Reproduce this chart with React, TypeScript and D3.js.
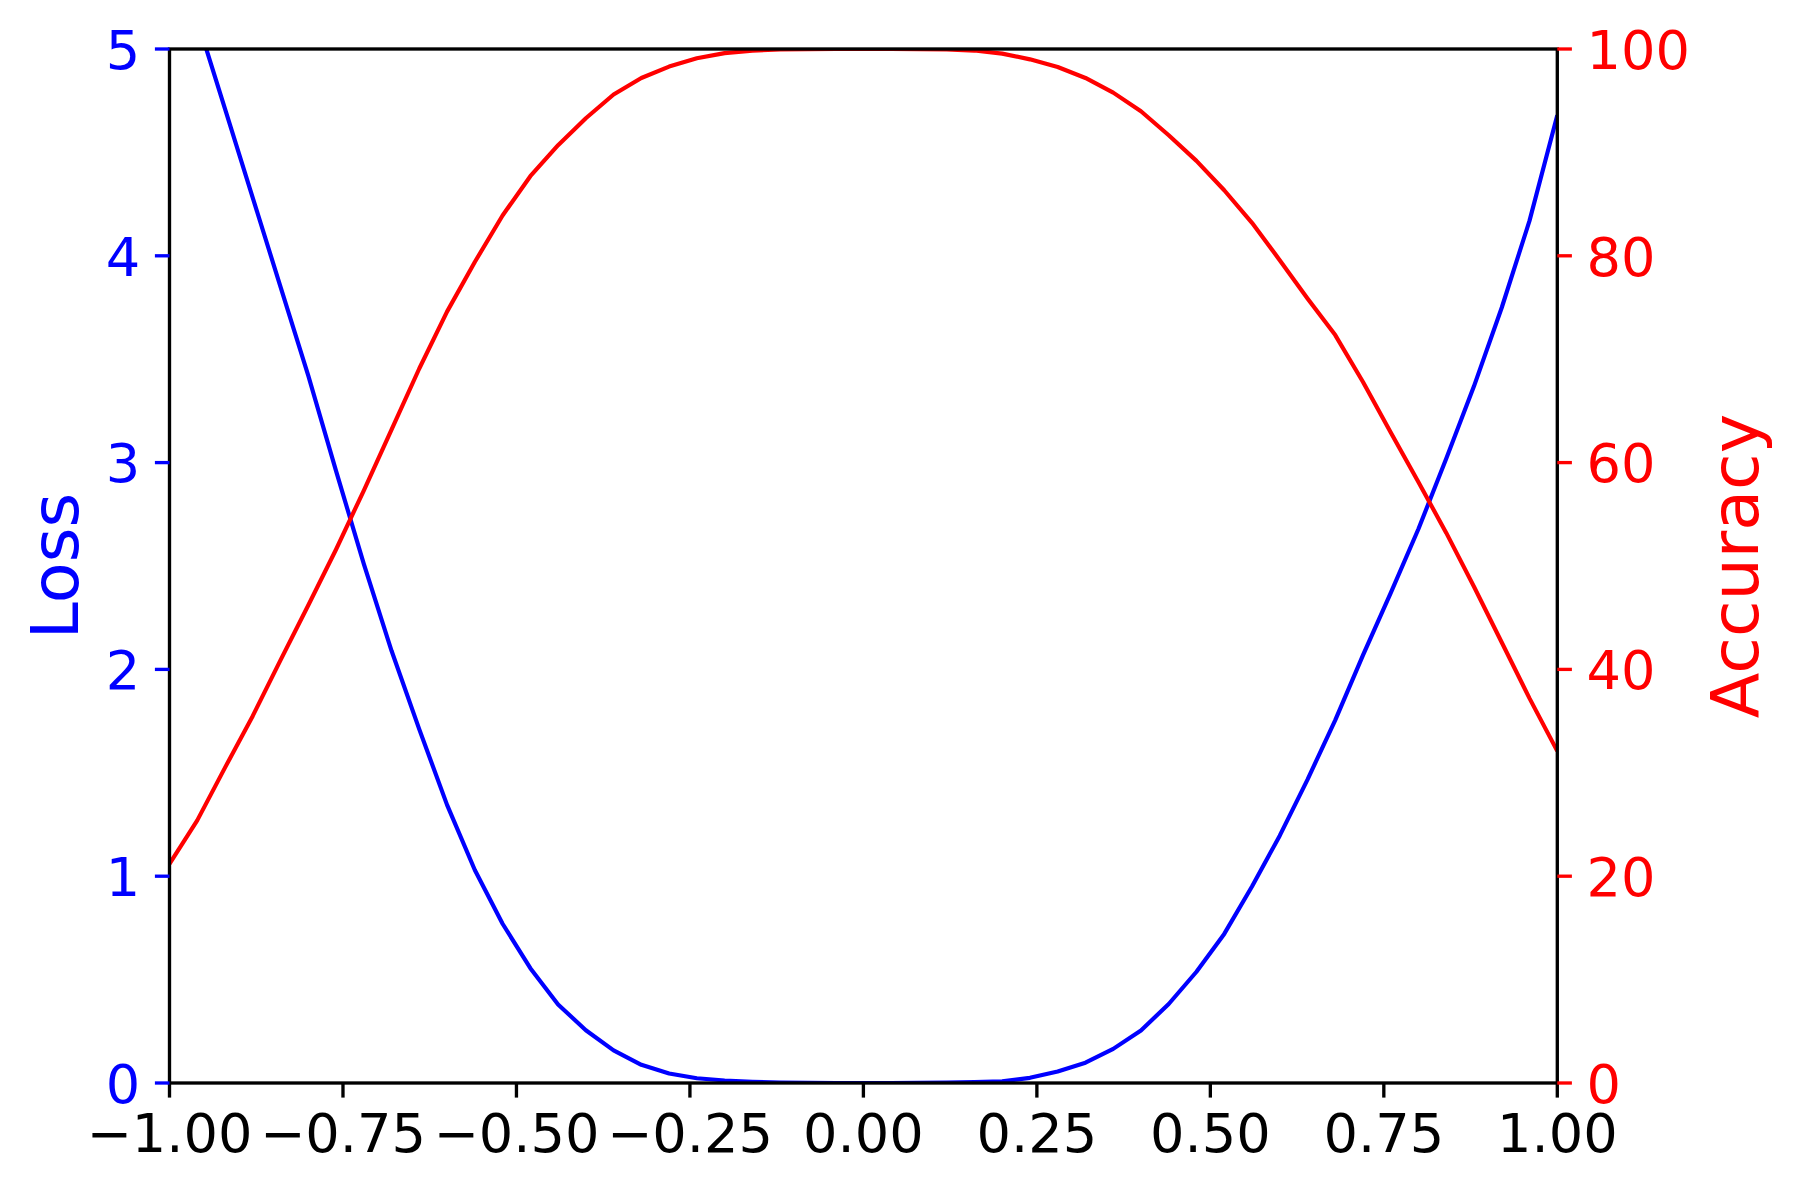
import React from "react";
import * as d3 from "d3";

const X = [
  -1.0, -0.96, -0.92, -0.88, -0.84, -0.8, -0.76, -0.72, -0.68, -0.64, -0.6, -0.56, -0.52, -0.48, -0.44, -0.4, -0.36,
  -0.32, -0.28, -0.24, -0.2, -0.16, -0.12, -0.08, -0.04, 0.0, 0.04, 0.08, 0.12, 0.16, 0.2, 0.24, 0.28, 0.32, 0.36,
  0.4, 0.44, 0.48, 0.52, 0.56, 0.6, 0.64, 0.68, 0.72, 0.76, 0.8, 0.84, 0.88, 0.92, 0.96, 1.0,
];
const LOSS = [
  5.57, 5.14, 4.71, 4.28, 3.85, 3.42, 2.96, 2.51, 2.09, 1.71, 1.345, 1.03, 0.77, 0.555, 0.38, 0.255, 0.158, 0.088, 0.046,
  0.023, 0.012, 0.006, 0.002, 0.0005, 0.0, 0.0, 0.0, 0.0005, 0.002, 0.004, 0.008, 0.025, 0.056, 0.098, 0.165, 0.254,
  0.382, 0.538, 0.721, 0.95, 1.196, 1.467, 1.755, 2.069, 2.37, 2.68, 3.02, 3.37, 3.75, 4.17, 4.68,
];
const ACC = [
  21.2, 25.4, 30.5, 35.5, 40.9, 46.2, 51.6, 57.3, 63.2, 69.1, 74.6, 79.4, 83.9, 87.7, 90.7, 93.3, 95.6, 97.2, 98.3,
  99.1, 99.6, 99.85, 99.95, 99.99, 100, 100, 100, 99.99, 99.95, 99.85, 99.55, 99.0, 98.26, 97.2, 95.78, 93.98, 91.66,
  89.18, 86.34, 83.19, 79.58, 75.88, 72.33, 67.8, 62.9, 58.1, 53.2, 48.0, 42.6, 37.2, 32.1,
];
const X_TICKS = [-1.0, -0.75, -0.5, -0.25, 0.0, 0.25, 0.5, 0.75, 1.0];
const LOSS_TICKS = [0, 1, 2, 3, 4, 5];
const ACC_TICKS = [0, 20, 40, 60, 80, 100];

const W = 1799;
const H = 1191;
const L = 169.5;
const R = 1557.3;
const T = 49;
const B = 1083;
const TICK = 14.6;
const PAD = 14.6;
const TICK_FS = 54.2;
const LABEL_FS = 66.7;
const CAP = 0.729;
const FONT = "DejaVu Sans";

export default function App() {
  const x = d3.scaleLinear().domain([-1, 1]).range([L, R]);
  const yL = d3.scaleLinear().domain([0, 5]).range([B, T]);
  const yA = d3.scaleLinear().domain([0, 100]).range([B, T]);

  const lossLine = d3
    .line<number>()
    .x((_, i) => x(X[i]))
    .y((d) => yL(d))(LOSS) as string;
  const accLine = d3
    .line<number>()
    .x((_, i) => x(X[i]))
    .y((d) => yA(d))(ACC) as string;

  const fmtX = (v: number) => d3.format(".2f")(v).replace("-", "\u2212");
  const capOff = (TICK_FS * CAP) / 2;

  return (
    <svg
      width={W}
      height={H}
      style={{ position: "absolute", left: 0, top: 0, background: "#fff" }}
      fontFamily={FONT}
    >
      <defs>
        <clipPath id="plotclip">
          <rect x={L} y={T} width={R - L} height={B - T} />
        </clipPath>
      </defs>
      <rect x={0} y={0} width={W} height={H} fill="#fff" />

      <path d={lossLine} fill="none" stroke="#0000ff" strokeWidth={4.17} clipPath="url(#plotclip)" strokeLinejoin="round" />
      <path d={accLine} fill="none" stroke="#ff0000" strokeWidth={4.17} clipPath="url(#plotclip)" strokeLinejoin="round" />

      <rect x={L} y={T} width={R - L} height={B - T} fill="none" stroke="#000" strokeWidth={3.33} />

      {X_TICKS.map((t) => (
        <g key={"x" + t}>
          <line x1={x(t)} x2={x(t)} y1={B} y2={B + TICK} stroke="#000" strokeWidth={3.33} />
          <text x={x(t)} y={B + TICK + PAD + TICK_FS * CAP} fontSize={TICK_FS} textAnchor="middle" fill="#000">
            {fmtX(t)}
          </text>
        </g>
      ))}

      {LOSS_TICKS.map((t) => (
        <g key={"l" + t}>
          <line x1={L - TICK} x2={L} y1={yL(t)} y2={yL(t)} stroke="#0000ff" strokeWidth={3.33} />
          <text x={L - TICK - PAD} y={yL(t) + capOff} fontSize={TICK_FS} textAnchor="end" fill="#0000ff">
            {String(t)}
          </text>
        </g>
      ))}

      {ACC_TICKS.map((t) => (
        <g key={"a" + t}>
          <line x1={R} x2={R + TICK} y1={yA(t)} y2={yA(t)} stroke="#ff0000" strokeWidth={3.33} />
          <text x={R + TICK + PAD} y={yA(t) + capOff} fontSize={TICK_FS} textAnchor="start" fill="#ff0000">
            {String(t)}
          </text>
        </g>
      ))}

      <text
        transform={`translate(78, ${(T + B) / 2}) rotate(-90)`}
        fontSize={LABEL_FS}
        textAnchor="middle"
        fill="#0000ff"
      >
        Loss
      </text>
      <text
        transform={`translate(1758, ${(T + B) / 2}) rotate(-90)`}
        fontSize={LABEL_FS}
        textAnchor="middle"
        fill="#ff0000"
      >
        Accuracy
      </text>
    </svg>
  );
}
